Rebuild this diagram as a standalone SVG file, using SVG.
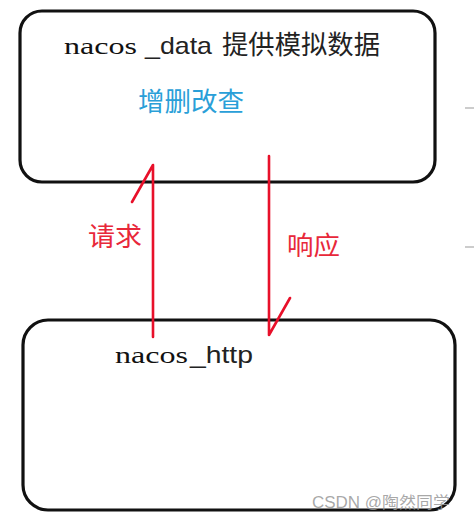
<svg xmlns="http://www.w3.org/2000/svg" width="474" height="527" viewBox="0 0 474 527">
<style>
.box{fill:#fff;stroke:#111;stroke-width:3.2}
.serif{font-family:"Liberation Serif","Noto Sans CJK SC",serif;fill:#111}
.sans{font-family:"Liberation Sans","Noto Sans CJK SC",sans-serif;fill:#222}
.cjk{font-family:"Noto Sans CJK SC","Liberation Sans",sans-serif}
.red{fill:#e8283a}
.conn{stroke:#e8102a;stroke-width:2.6;fill:none;stroke-linecap:round}
</style>
<rect width="474" height="527" fill="#fff"/>
<g id="node-data">
<rect class="box" x="20" y="11" width="415" height="171" rx="22"/>
<text y="54" font-size="24"><tspan class="serif" x="64" textLength="73" lengthAdjust="spacingAndGlyphs">nacos</tspan><tspan class="sans" x="145" textLength="67" lengthAdjust="spacingAndGlyphs">_data</tspan><tspan class="cjk" x="222" fill="#222" font-size="26" textLength="158" lengthAdjust="spacingAndGlyphs">提供模拟数据</tspan></text>
<text class="cjk" x="138" y="111" font-size="26" fill="#2a9fd8" textLength="106" lengthAdjust="spacingAndGlyphs">增删改查</text>
</g>
<g id="node-http">
<rect class="box" x="23" y="320" width="432" height="190" rx="25"/>
<text y="363" font-size="24"><tspan class="serif" x="115" textLength="73" lengthAdjust="spacingAndGlyphs">nacos</tspan><tspan class="sans" x="190" textLength="63" lengthAdjust="spacingAndGlyphs">_http</tspan></text>
</g>
<g id="connectors">
<path class="conn" d="M153,337 V165 M153,165 L132,202"/>
<path class="conn" d="M269,156 V335 M269,335 L290,298"/>
<text class="cjk red" x="88" y="246" font-size="26" textLength="54" lengthAdjust="spacingAndGlyphs">请求</text>
<text class="cjk red" x="287" y="255" font-size="26" textLength="53" lengthAdjust="spacingAndGlyphs">响应</text>
</g>
<g id="artifacts" stroke="#bbb" stroke-width="1.5">
<line x1="465" y1="108" x2="474" y2="108"/>
<line x1="465" y1="247" x2="474" y2="247"/>
</g>
<text x="312" y="508" font-size="16" fill="#999" fill-opacity="0.85" font-family="Liberation Sans,Noto Sans CJK SC,sans-serif" textLength="138" lengthAdjust="spacingAndGlyphs">CSDN @陶然同学</text>
</svg>
